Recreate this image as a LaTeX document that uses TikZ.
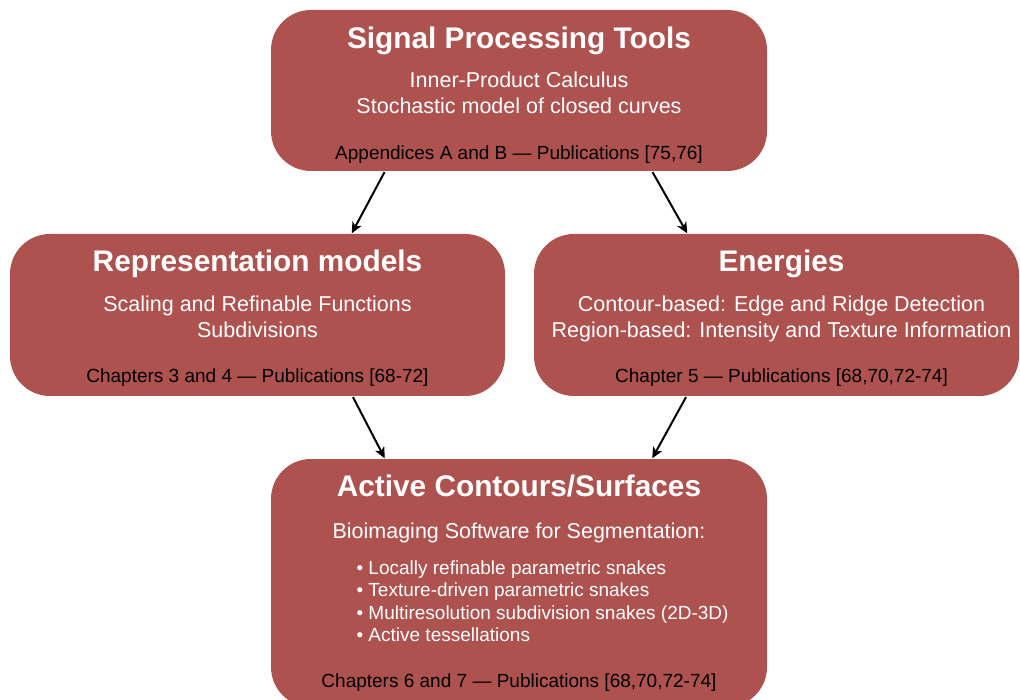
\documentclass[tikz,border=0pt]{standalone}
\usepackage{fontspec}
\setmainfont{Liberation Sans}
\usetikzlibrary{arrows.meta}
\newlength{\du}
\setlength{\du}{1pt}
\definecolor{boxcolor}{rgb}{0.678431, 0.321569, 0.309804}

\begin{document}
\begin{tikzpicture}[
  block/.style={draw=none, fill=boxcolor, rounded corners=40\du, inner sep=0pt},
  headtext/.style={anchor=base, text=white, font=\fontsize{29.8}{34}\selectfont\bfseries},
  bodytext/.style={anchor=base, text=white, font=\fontsize{21.5}{26}\selectfont},
  itemtext/.style={anchor=base west, text=white, font=\fontsize{19}{22}\selectfont},
  foottext/.style={anchor=base, text=black, font=\fontsize{19}{22}\selectfont},
  link/.style={-{Stealth[length=11pt,width=10pt,inset=3pt]}, line width=2pt, shorten <=1pt, shorten >=0.5pt}
]
\pgftransformxscale{1.000000}
\pgftransformyscale{-1.000000}
\useasboundingbox (0\du,0\du) rectangle (1020\du,700\du);
% boxes
\node[block, minimum width=496\du, minimum height=161\du] (sp) at (519\du,90.5\du) {};
\node[block, minimum width=495\du, minimum height=162\du] (rm) at (257.5\du,315\du) {};
\node[block, minimum width=485\du, minimum height=162\du] (en) at (776.5\du,315\du) {};
\node[block, minimum width=496\du, minimum height=248\du] (ac) at (519\du,583\du) {};
% signal processing tools
\node[headtext] (sptitle) at (519\du,48.5\du) {Signal Processing Tools};
\node[bodytext] (spone) at (519\du,88\du) {Inner-Product Calculus};
\node[bodytext] (sptwo) at (519\du,113.5\du) {Stochastic model of closed curves};
\node[foottext] (spfoot) at (519\du,159.5\du) {Appendices A and B — Publications [75,76]};
% representation models
\node[headtext] (rmtitle) at (257.5\du,271.5\du) {Representation models};
\node[bodytext] (rmone) at (257.5\du,312\du) {Scaling and Refinable Functions};
\node[bodytext] (rmtwo) at (257.5\du,338\du) {Subdivisions};
\node[foottext] (rmfoot) at (257.5\du,383\du) {Chapters 3 and 4 — Publications [68-72]};
% energies
\node[headtext] (entitle) at (781.5\du,271.5\du) {Energies};
\node[bodytext] (enone) at (781.5\du,312\du) {Contour-based: Edge and Ridge Detection};
\node[bodytext] (entwo) at (781.5\du,338\du) {Region-based: Intensity and Texture Information};
\node[foottext] (enfoot) at (781.5\du,383\du) {Chapter 5 — Publications [68,70,72-74]};
% active contours
\node[headtext] (actitle) at (519\du,496.5\du) {Active Contours/Surfaces};
\node[bodytext] (acsub) at (519\du,538.3\du) {Bioimaging Software for Segmentation:};
\node[itemtext] (acone) at (353\du,574.3\du) {• Locally refinable parametric snakes};
\node[itemtext] (actwo) at (353\du,596.5\du) {• Texture-driven parametric snakes};
\node[itemtext] (acthree) at (353\du,619\du) {• Multiresolution subdivision snakes (2D-3D)};
\node[itemtext] (acfour) at (353\du,641.3\du) {• Active tessellations};
\node[foottext] (acfoot) at (519\du,687.7\du) {Chapters 6 and 7 — Publications [68,70,72-74]};
% links
\draw[link] ([xshift=-134pt]sp.south) -- ([xshift=94pt]rm.north);
\draw[link] ([xshift=133pt]sp.south) -- ([xshift=-89pt]en.north);
\draw[link] ([xshift=95pt]rm.south) -- ([xshift=-134pt]ac.north);
\draw[link] ([xshift=-90pt]en.south) -- ([xshift=133pt]ac.north);
\end{tikzpicture}
\end{document}
